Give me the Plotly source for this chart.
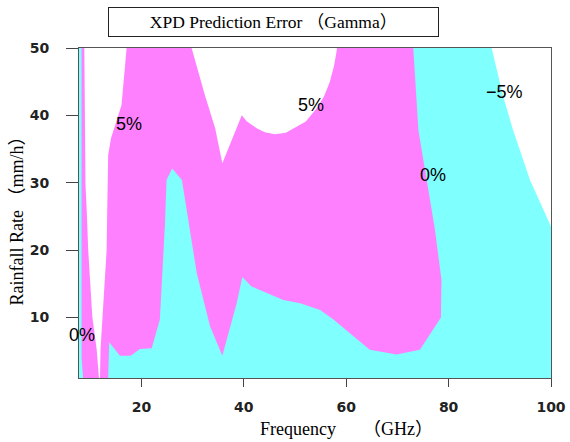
import plotly.graph_objects as go

# Axis extents
FREQ_RANGE = [7.8, 100]
RAIN_RANGE = [1, 50]

# -5 % error contour (upper right), frequency in GHz / rain rate in mm/h
m5_freq = [88.4, 90.7, 92.6, 95.9, 100.0]
m5_rain = [50.0, 42.7, 37.8, 30.4, 23.5]

# 0 % error contour, narrow branch at the low-frequency edge
zero_left_freq = [8.6, 8.3, 8.3]
zero_left_rain = [1.0, 4.0, 50.0]

# 0 % error contour, main branch (from the top edge down to the bottom edge)
zero_main_freq = [73.1, 74.1, 75.7, 77.3, 78.6, 78.6, 78.5, 74.4, 69.85, 64.6,
                  60.7, 57.5, 54.9, 51.0, 47.7, 41.5, 39.7, 38.6, 35.8, 33.4,
                  30.8, 28.8, 27.9, 26.0, 24.9, 24.6, 23.6, 22.0, 19.7, 17.9,
                  15.8, 13.7, 13.5]
zero_main_rain = [50.0, 37.8, 30.4, 23.2, 15.6, 11.6, 10.0, 5.2, 4.5, 5.2,
                  7.7, 9.7, 11.1, 12.1, 12.6, 14.6, 16.0, 12.1, 4.3, 8.7,
                  16.6, 26.4, 30.4, 32.1, 30.4, 24.0, 9.7, 5.4, 5.3, 4.3,
                  4.3, 6.3, 1.0]

# +5 % error contour, low-frequency lobe
p5_left_freq = [8.84, 9.07, 9.3, 9.6, 10.4, 11.26, 11.7, 11.9, 12.0, 12.35,
                13.2, 13.3, 13.5, 14.05, 16.1, 16.8, 17.1]
p5_left_rain = [50.0, 29.7, 26.0, 20.0, 10.1, 5.2, 1.0, 1.0, 5.2, 10.1,
                20.0, 25.2, 34.1, 36.6, 41.5, 47.4, 50.0]

# +5 % error contour, mid-band lobe
p5_mid_freq = [29.8, 32.4, 34.4, 35.8, 39.6, 40.6, 42.5, 44.1, 46.1, 48.2,
               50.3, 52.1, 54.2, 55.65, 56.8, 57.6, 58.1, 58.2]
p5_mid_rain = [50.0, 43.0, 38.1, 32.9, 40.0, 39.1, 38.1, 37.5, 37.2, 37.4,
               38.3, 39.1, 41.0, 42.8, 45.0, 47.3, 49.4, 50.0]

# Contour labels
label_text = ["5%", "5%", "0%", "\u22125%", "0%"]
label_freq = [17.6, 53.2, 76.9, 91.0, 8.4]
label_rain = [38.7, 41.5, 31.1, 43.5, 7.4]

CYAN = "#80FFFF"
MAGENTA = "#FF80FF"
WHITE = "#FFFFFF"

f0, f1 = FREQ_RANGE
r0, r1 = RAIN_RANGE

fig = go.Figure()


def add_region(xs, ys, color):
    fig.add_trace(go.Scatter(
        x=xs, y=ys, mode="lines", fill="toself", fillcolor=color,
        line=dict(width=0, color=color), hoverinfo="skip", showlegend=False,
    ))


# error between -5 % and 0 %: everything below the -5 % contour
add_region([f0, f0] + m5_freq + [f1], [r0, r1] + m5_rain + [r0], CYAN)
# error above 0 %
add_region(zero_left_freq + zero_main_freq, zero_left_rain + zero_main_rain, MAGENTA)
# error above +5 %
add_region(p5_left_freq, p5_left_rain, WHITE)
add_region(p5_mid_freq, p5_mid_rain, WHITE)

for t, fx, ry in zip(label_text, label_freq, label_rain):
    fig.add_annotation(x=fx, y=ry, text=t, showarrow=False,
                       font=dict(family="Liberation Sans, Arial", size=18, color="#000"))

serif = "Liberation Serif, Times New Roman, Noto Sans CJK JP, serif"

# Title in a framed box
fig.add_annotation(xref="paper", yref="paper", x=0.413, y=1.080,
                   text="XPD Prediction Error \uff08Gamma\uff09", showarrow=False,
                   font=dict(family=serif, size=17.5, color="#000"),
                   bordercolor="#222", borderwidth=1, borderpad=1,
                   width=327, height=26, bgcolor="#fff",
                   xanchor="center", yanchor="middle")

# Axis titles
fig.add_annotation(xref="paper", yref="paper", x=0.566, y=-0.156,
                   text="Frequency\u3000\u3000\uff08GHz\uff09", showarrow=False,
                   font=dict(family=serif, size=18, color="#000"),
                   xanchor="center", yanchor="middle")
fig.add_annotation(xref="paper", yref="paper", x=-0.131, y=0.49,
                   text="Rainfall Rate \uff08mm/h\uff09", showarrow=False, textangle=-90,
                   font=dict(family=serif, size=18, color="#000"),
                   xanchor="center", yanchor="middle")

tickfont = dict(family="DejaVu Sans", size=14, color="#222", weight="bold")

fig.update_xaxes(range=FREQ_RANGE, tickvals=[20, 40, 60, 80, 100],
                 showgrid=False, zeroline=False, showline=True, linecolor="#555",
                 linewidth=1, mirror=True, ticks="outside", ticklen=8,
                 tickcolor="#444", tickwidth=1, tickfont=tickfont,
                 ticklabelstandoff=8, automargin=False)
fig.update_yaxes(range=RAIN_RANGE, tickvals=[10, 20, 30, 40, 50],
                 showgrid=False, zeroline=False, showline=True, linecolor="#555",
                 linewidth=1, mirror=True, ticks="outside", ticklen=12,
                 tickcolor="#444", tickwidth=1, tickfont=tickfont,
                 ticklabelstandoff=14, automargin=False)

fig.update_layout(width=570, height=442,
                  margin=dict(l=79, r=19, t=48, b=64, autoexpand=False),
                  plot_bgcolor="#fff", paper_bgcolor="#fff",
                  showlegend=False)

fig.write_html("out.html")
